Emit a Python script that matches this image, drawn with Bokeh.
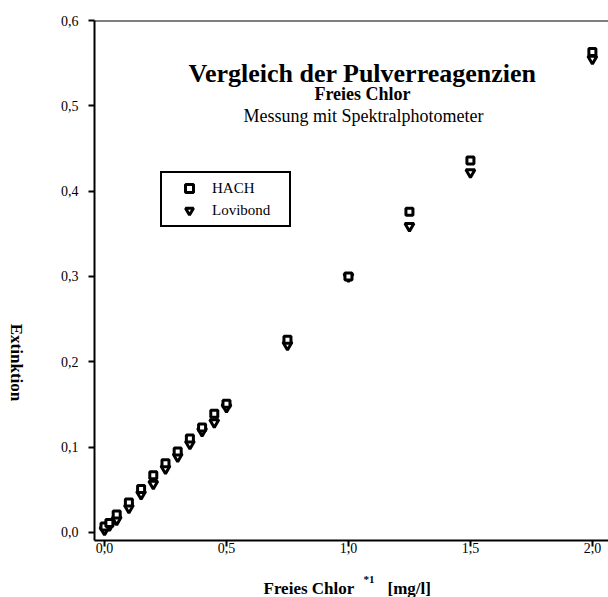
import math
from bokeh.plotting import figure
from bokeh.layouts import row, column
from bokeh.models import (ColumnDataSource, Range1d, FixedTicker, CustomJSTickFormatter,
                          Legend, LegendItem, Label, Span)
from bokeh.embed import file_html
from bokeh.resources import INLINE

# ---- data ----
conc = [0.0, 0.02, 0.05, 0.10, 0.15, 0.20, 0.25, 0.30, 0.35, 0.40, 0.45, 0.50, 0.75, 1.00, 1.25, 1.50, 2.00]
hach = [0.007, 0.011, 0.021, 0.035, 0.051, 0.067, 0.081, 0.095, 0.110, 0.123, 0.139, 0.151, 0.226, 0.300, 0.376, 0.436, 0.563]
lovibond = [0.003, 0.008, 0.015, 0.029, 0.045, 0.057, 0.075, 0.089, 0.104, 0.119, 0.129, 0.147, 0.220, 0.300, 0.359, 0.422, 0.555]
x_ticks = [0.0, 0.5, 1.0, 1.5, 2.0]
y_ticks = [0.0, 0.1, 0.2, 0.3, 0.4, 0.5, 0.6]

SERIF = "Liberation Serif"
LEFT_W = 40
BOTTOM_H = 32
MAIN_W = 608 - LEFT_W
MAIN_H = 597 - BOTTOM_H

p = figure(width=MAIN_W, height=MAIN_H, output_backend="svg", toolbar_location=None,
           x_range=Range1d(-0.041, 2.066), y_range=Range1d(-0.0094, 0.6),
           min_border_left=94 - LEFT_W, min_border_right=0, min_border_top=20,
           min_border_bottom=MAIN_H - 540)
p.outline_line_color = None
p.xgrid.visible = False
p.ygrid.visible = False
p.background_fill_color = "white"

fmt = CustomJSTickFormatter(code="return tick.toFixed(1).replace('.', ',');")
for ax, ticks in ((p.xaxis[0], x_ticks), (p.yaxis[0], y_ticks)):
    ax.ticker = FixedTicker(ticks=ticks)
    ax.formatter = fmt
    ax.axis_line_width = 2
    ax.axis_line_color = "black"
    ax.major_tick_line_width = 2
    ax.major_tick_line_color = "black"
    ax.major_tick_in = 0
    ax.major_tick_out = 6
    ax.minor_tick_line_color = None
    ax.major_label_text_font = SERIF
    ax.major_label_text_font_size = "14px"
    ax.major_label_text_color = "black"
p.yaxis[0].major_label_standoff = 10
p.xaxis[0].major_label_standoff = -4

p.add_layout(Span(location=0.6, dimension="width", line_color="black", line_width=2))

src = ColumnDataSource(dict(x=conc, h=hach, l=lovibond))
r_l = p.scatter("x", "l", source=src, marker="inverted_triangle", size=9,
                fill_color="white", line_color="black", line_width=3)
r_h = p.scatter("x", "h", source=src, marker="square", size=7,
                fill_color="white", line_color="black", line_width=3)

legend = Legend(items=[LegendItem(label="HACH", renderers=[r_h]),
                       LegendItem(label="Lovibond", renderers=[r_l])],
                location=(66, 313), orientation="vertical",
                padding=5, margin=0, spacing=2,
                glyph_width=44, glyph_height=20, label_height=20, label_width=72,
                label_standoff=1,
                label_text_font=SERIF, label_text_font_size="15px", label_text_color="black",
                border_line_color="black", border_line_width=2, border_line_alpha=1,
                background_fill_color="white", background_fill_alpha=1)
p.add_layout(legend, "center")


def lab(fig, text, x, y, size, bold=False, align="left", angle=0, baseline="alphabetic"):
    fig.add_layout(Label(x=x, y=y, x_units="screen", y_units="screen", text=text,
                         text_font=SERIF, text_font_size=size,
                         text_font_style="bold" if bold else "normal",
                         text_align=align, text_baseline=baseline, angle=angle,
                         text_color="black"))


# titles inside the main frame (frame origin at absolute x=94, y=540)
lab(p, "Vergleich der Pulverreagenzien", 362 - 94, 540 - 73, "26px", bold=True, align="center")
lab(p, "Freies Chlor", 362 - 94, 540 - 93, "18px", bold=True, align="center")
lab(p, "Messung mit Spektralphotometer", 363 - 94, 540 - 115, "18px", align="center")


def strip(w, h):
    f = figure(width=w, height=h, output_backend="svg", toolbar_location=None,
               x_range=Range1d(0, 1), y_range=Range1d(0, 1),
               x_axis_location=None, y_axis_location=None, min_border=0)
    f.outline_line_color = None
    f.xgrid.visible = False
    f.ygrid.visible = False
    return f


left = strip(LEFT_W, MAIN_H)
lab(left, "Extinktion", 16, MAIN_H - 387, "17px", bold=True, align="center",
    angle=-math.pi / 2, baseline="middle")

bottom = strip(608, BOTTOM_H)
lab(bottom, "Freies Chlor", 263, 597 - 588, "17px", bold=True)
lab(bottom, "*1", 363, 597 - 578, "11px", bold=True)
lab(bottom, "[mg/l]", 387, 597 - 588, "17px", bold=True)

layout = column(row(left, p, spacing=0), bottom, spacing=0)

open("out.html", "w").write(file_html(layout, INLINE))
